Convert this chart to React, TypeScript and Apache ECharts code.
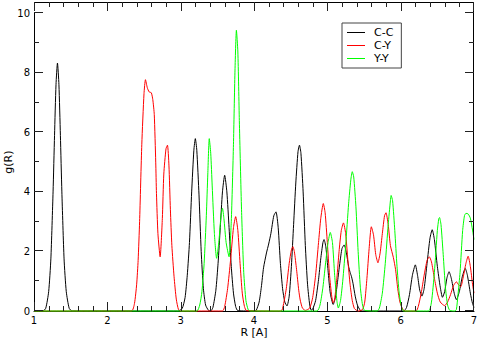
import React, { useEffect, useRef } from "react";
import * as echarts from "echarts";

// g(R), [R, g(R)]
const ccPoints: number[][] = [
  [1.0, 0], [1.12, 0], [1.16, 0.09], [1.2, 0.65], [1.23, 1.75], [1.26, 4.0], [1.28, 5.9], [1.3, 7.6],
  [1.32, 8.33], [1.34, 7.6], [1.36, 5.9], [1.38, 4.0], [1.41, 1.75], [1.44, 0.65], [1.48, 0.09], [1.52, 0],
  [2.96, 0], [3.02, 0.08], [3.06, 0.45], [3.09, 1.2], [3.12, 2.3], [3.15, 4.0], [3.18, 5.4], [3.2, 5.79],
  [3.22, 5.4], [3.25, 3.9], [3.28, 2.0], [3.31, 0.75], [3.34, 0.2], [3.38, 0.02], [3.41, 0],
  [3.44, 0.12], [3.48, 0.7], [3.51, 1.6], [3.54, 2.8], [3.57, 4.0], [3.6, 4.56], [3.63, 4.0], [3.66, 2.8],
  [3.69, 1.5], [3.72, 0.6], [3.75, 0.15], [3.78, 0.01], [4.0, 0],
  [4.03, 0.02], [4.07, 0.3], [4.1, 0.8], [4.13, 1.45], [4.17, 1.95], [4.2, 2.25], [4.23, 2.6], [4.27, 3.2],
  [4.3, 3.33], [4.33, 2.8], [4.36, 1.6], [4.39, 0.75], [4.42, 0.3], [4.45, 0.17], [4.48, 0.5], [4.51, 1.5],
  [4.54, 2.9], [4.57, 4.3], [4.6, 5.35], [4.62, 5.57], [4.64, 5.3], [4.67, 4.0], [4.7, 2.2], [4.73, 0.9],
  [4.76, 0.2], [4.78, 0.03], [4.8, 0.06], [4.84, 0.35], [4.88, 1.05], [4.91, 1.75], [4.94, 2.3], [4.955, 2.4],
  [4.98, 2.15], [5.01, 1.35], [5.04, 0.6], [5.08, 0.22], [5.11, 0.45], [5.14, 1.0], [5.17, 1.6], [5.2, 2.1],
  [5.23, 2.22], [5.26, 1.95], [5.29, 1.5], [5.31, 1.3], [5.33, 1.15], [5.35, 0.93], [5.38, 0.5], [5.41, 0.2],
  [5.45, 0.02], [5.48, 0], [6.04, 0], [6.08, 0.12], [6.12, 0.55], [6.16, 1.2], [6.2, 1.55], [6.23, 1.2],
  [6.26, 0.7], [6.29, 0.5], [6.32, 0.75], [6.36, 1.6], [6.4, 2.45], [6.43, 2.73], [6.46, 2.4], [6.5, 1.5],
  [6.54, 0.8], [6.57, 0.46], [6.6, 0.65], [6.63, 1.1], [6.66, 1.32], [6.69, 1.1], [6.73, 0.6], [6.76, 0.38],
  [6.8, 0.65], [6.84, 1.15], [6.88, 1.43], [6.91, 1.2], [6.95, 0.6], [6.98, 0.25], [7.0, 0.12],
];

const cyPoints: number[][] = [
  [1.0, 0], [2.33, 0], [2.37, 0.25], [2.4, 0.9], [2.42, 1.7], [2.44, 3.0], [2.47, 5.6], [2.5, 7.3],
  [2.52, 7.77], [2.545, 7.5], [2.57, 7.36], [2.6, 7.33], [2.62, 7.1], [2.64, 6.6], [2.66, 5.0], [2.67, 3.95],
  [2.69, 2.6], [2.72, 1.82], [2.75, 3.1], [2.77, 4.6], [2.8, 5.45], [2.82, 5.57], [2.84, 4.9], [2.86, 3.4],
  [2.88, 2.2], [2.91, 1.15], [2.94, 0.4], [2.97, 0.05], [3.0, 0],
  [3.57, 0], [3.6, 0.15], [3.64, 0.75], [3.68, 1.7], [3.72, 2.8], [3.75, 3.17], [3.78, 2.7], [3.81, 1.6],
  [3.84, 0.6], [3.87, 0.15], [3.9, 0.01], [4.37, 0],
  [4.4, 0.2], [4.44, 0.75], [4.48, 1.6], [4.51, 2.05], [4.53, 2.16], [4.55, 2.0], [4.58, 1.4], [4.61, 0.7],
  [4.63, 0.37], [4.66, 0.1], [4.7, 0.02], [4.76, 0.1], [4.8, 0.45], [4.84, 1.2], [4.88, 2.3], [4.91, 3.1],
  [4.945, 3.61], [4.97, 3.3], [5.0, 2.3], [5.03, 1.2], [5.06, 0.5], [5.08, 0.27], [5.1, 0.4], [5.13, 1.1],
  [5.16, 2.0], [5.19, 2.7], [5.22, 2.96], [5.25, 2.6], [5.28, 1.7], [5.31, 0.9], [5.34, 0.35], [5.37, 0.08],
  [5.42, 0], [5.48, 0.05], [5.51, 0.3], [5.54, 1.1], [5.57, 2.1], [5.6, 2.83], [5.63, 2.55], [5.66, 1.9],
  [5.69, 1.62], [5.72, 1.95], [5.75, 2.6], [5.78, 3.2], [5.8, 3.3], [5.83, 2.9], [5.86, 2.2], [5.9, 1.8],
  [5.93, 1.4], [5.96, 0.75], [5.99, 0.3], [6.03, 0.05], [6.06, 0], [6.21, 0],
  [6.24, 0.15], [6.28, 0.6], [6.32, 1.2], [6.36, 1.7], [6.39, 1.82], [6.42, 1.65], [6.46, 1.1], [6.5, 0.6],
  [6.54, 0.3], [6.6, 0.18], [6.64, 0.3], [6.68, 0.55], [6.72, 0.85], [6.76, 0.98], [6.79, 0.88], [6.82, 0.82],
  [6.85, 1.1], [6.89, 1.6], [6.92, 1.84], [6.95, 1.5], [6.98, 0.9], [7.0, 0.6],
];

const yyPoints: number[][] = [
  [1.0, 0], [3.22, 0], [3.26, 0.2], [3.29, 0.65], [3.32, 1.6], [3.35, 3.2], [3.37, 4.6], [3.39, 5.79],
  [3.41, 5.3], [3.43, 4.2], [3.46, 2.6], [3.49, 1.77], [3.52, 2.3], [3.55, 3.2], [3.57, 3.45], [3.59, 3.1],
  [3.62, 2.3], [3.66, 1.82], [3.69, 3.0], [3.72, 5.6], [3.74, 8.0], [3.76, 9.43], [3.78, 8.7], [3.8, 6.4],
  [3.83, 3.4], [3.86, 1.3], [3.89, 0.35], [3.92, 0.05], [3.95, 0],
  [4.86, 0], [4.9, 0.2], [4.94, 0.8], [4.98, 1.7], [5.01, 2.3], [5.04, 2.64], [5.07, 2.3], [5.1, 1.2],
  [5.13, 0.35], [5.15, 0.1], [5.18, 0.35], [5.21, 1.0], [5.25, 2.2], [5.29, 3.6], [5.32, 4.4], [5.34, 4.68],
  [5.36, 4.5], [5.39, 3.5], [5.42, 2.0], [5.45, 0.8], [5.48, 0.2], [5.51, 0.02], [5.68, 0],
  [5.71, 0.1], [5.75, 0.6], [5.79, 1.6], [5.83, 2.9], [5.86, 3.7], [5.87, 3.88], [5.89, 3.7], [5.92, 2.7],
  [5.95, 1.5], [5.98, 0.6], [6.01, 0.15], [6.04, 0], [6.38, 0],
  [6.42, 0.3], [6.46, 1.3], [6.5, 2.7], [6.52, 3.1], [6.53, 3.14], [6.55, 2.9], [6.58, 1.9], [6.61, 0.8],
  [6.64, 0.2], [6.67, 0.02], [6.74, 0], [6.76, 0.05], [6.78, 0.5], [6.81, 1.3], [6.845, 2.7], [6.87, 3.2],
  [6.89, 3.28], [6.92, 3.26], [6.95, 3.12], [6.98, 2.72], [7.0, 2.4],
];

const seriesNames = ["C-C", "C-Y", "Y-Y"];
const seriesColors = ["#000000", "#ff0000", "#00ff00"];
const seriesData = [ccPoints, cyPoints, yyPoints];

// axis ranges and tick steps
const X_MIN = 1;
const X_MAX = 7;
const X_MAJOR = 1;
const X_MINOR = 0.2;
const Y_MIN = 0;
const Y_MAX = 10;
const Y_FRAME_TOP = 10.37; // the frame's top edge sits a little above the last tick
const Y_MAJOR = 2;
const Y_MINOR = 1;

const FONT = "DejaVu Sans";

function tickValues(min: number, max: number, step: number): number[] {
  const out: number[] = [];
  const n = Math.floor((max - min) / step + 1e-6);
  for (let i = 0; i <= n; i++) out.push(+(min + i * step).toFixed(6));
  return out;
}

export default function App() {
  const ref = useRef<HTMLDivElement>(null);

  useEffect(() => {
    if (!ref.current) return;
    const chart = echarts.init(ref.current, null, { renderer: "svg" });
    const label = { color: "#000", fontFamily: FONT, fontSize: 10 };

    chart.setOption({
      animation: false,
      backgroundColor: "#ffffff",
      grid: { left: 34, right: 6, top: 13.3, bottom: 29, outerBoundsMode: "none" },
      xAxis: {
        type: "value",
        min: X_MIN,
        max: X_MAX,
        interval: X_MAJOR,
        name: "R [A]",
        nameLocation: "middle",
        nameGap: 16,
        nameMoveOverlap: false,
        nameTextStyle: { color: "#000", fontFamily: FONT, fontSize: 11 },
        axisLine: { show: true, onZero: false, lineStyle: { color: "#000", width: 1 } },
        axisTick: { show: false },
        axisLabel: { ...label, margin: 4 },
        splitLine: { show: false },
      },
      yAxis: {
        type: "value",
        min: Y_MIN,
        max: Y_MAX,
        interval: Y_MAJOR,
        name: "g(R)",
        nameLocation: "middle",
        nameGap: 20,
        nameMoveOverlap: false,
        nameTextStyle: { color: "#000", fontFamily: FONT, fontSize: 11 },
        axisLine: { show: true, onZero: false, lineStyle: { color: "#000", width: 1 } },
        axisTick: { show: false },
        axisLabel: { ...label, margin: 4 },
        splitLine: { show: false },
      },
      legend: {
        orient: "vertical",
        left: 342,
        top: 23,
        data: seriesNames,
        icon: "rect",
        itemWidth: 18,
        itemHeight: 1,
        itemGap: 0,
        padding: [3, 8, 3, 5],
        borderColor: "#444",
        borderWidth: 1,
        backgroundColor: "#ffffff",
        selectedMode: false,
        textStyle: {
          color: "#000",
          fontFamily: FONT,
          fontSize: 11,
          lineHeight: 13,
          padding: [0, 0, 0, 4],
        },
      },
      series: seriesNames.map((name, i) => ({
        name,
        type: "line",
        data: seriesData[i],
        symbol: "none",
        showSymbol: false,
        smooth: 0.2,
        clip: false,
        color: seriesColors[i],
        lineStyle: { color: seriesColors[i], width: 1 },
      })),
    });

    // Frame (top and right edges) and inward ticks on all four sides, placed through the axes' scales.
    try {
      const px = (v: number) => chart.convertToPixel({ xAxisIndex: 0 }, v) as number;
      const py = (v: number) => chart.convertToPixel({ yAxisIndex: 0 }, v) as number;
      const leftPx = Math.round(px(X_MIN));
      const rightPx = Math.round(px(X_MAX));
      const bottomPx = Math.round(py(Y_MIN));
      const topPx = Math.round(py(Y_FRAME_TOP));
      const elements: any[] = [];
      const line = (x1: number, y1: number, x2: number, y2: number) => ({
        type: "line",
        silent: true,
        z: 50,
        shape: { x1, y1, x2, y2 },
        style: { stroke: "#000000", lineWidth: 1 },
      });
      const bar = (x: number, y: number, width: number, height: number) => ({
        type: "rect",
        silent: true,
        z: 50,
        shape: { x, y, width, height },
        style: { fill: "#222222" },
      });
      elements.push(line(leftPx + 0.5, topPx + 0.5, rightPx - 0.5, topPx + 0.5));
      elements.push(line(rightPx - 0.5, topPx + 0.5, rightPx - 0.5, bottomPx - 0.5));
      const xMajor = tickValues(X_MIN, X_MAX, X_MAJOR);
      const yMajor = tickValues(Y_MIN, Y_MAX, Y_MAJOR);
      const isMajor = (v: number, list: number[]) => list.some((m) => Math.abs(m - v) < 1e-6);
      tickValues(X_MIN, X_MAX, X_MINOR).forEach((v) => {
        const len = isMajor(v, xMajor) ? 9 : 5;
        const x = Math.min(Math.round(px(v)), rightPx - 1);
        elements.push(bar(x, bottomPx - len, 1, len));
        elements.push(bar(x, topPx, 1, len));
      });
      tickValues(Y_MIN, Y_MAX, Y_MINOR).forEach((v) => {
        const len = isMajor(v, yMajor) ? 9 : 5;
        const y = Math.min(Math.round(py(v)), bottomPx) - 1;
        elements.push(bar(leftPx, y, len, 1));
        elements.push(bar(rightPx - len, y, len, 1));
      });
      chart.setOption({ graphic: { elements } });
    } catch (e) {
      // leave the chart without the extra frame if the conversion fails
    }

    return () => chart.dispose();
  }, []);

  return (
    <div
      ref={ref}
      style={{ position: "fixed", left: 0, top: 0, width: 480, height: 340, background: "#fff" }}
    />
  );
}
